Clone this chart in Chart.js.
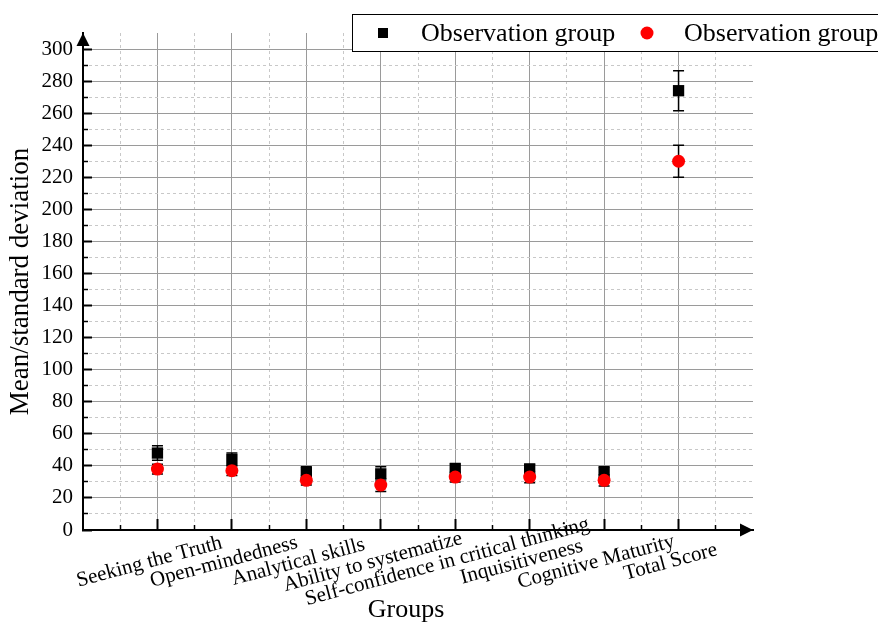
<!DOCTYPE html>
<html lang="en">
<head>
<meta charset="UTF-8" />
<title>Mean/standard deviation by group</title>
<style>
  body { margin: 0; background: #fff; }
  #wrap { width: 878px; height: 623px; }
</style>
<script src="https://cdn.jsdelivr.net/npm/chart.js"></script>
</head>
<body>
<div id="wrap"><canvas id="chart"></canvas></div>
<script>
const groups = ["Seeking the Truth", "Open-mindedness", "Analytical skills", "Ability to systematize",
  "Self-confidence in critical thinking", "Inquisitiveness", "Cognitive Maturity", "Total Score"];
const seriesNames = ["Observation group", "Observation group"];
const obsMean = [48, 44, 36, 35, 38, 38, 36, 274];
const obsSd = [4.5, 4, 3.5, 4.5, 3.5, 3, 3.5, 12.5];
const ctrlMean = [38, 37, 31, 28, 33, 33, 31, 230];
const ctrlSd = [3, 3, 3, 4, 3, 3.5, 3.5, 10];

const serif = "'Liberation Serif', 'Times New Roman', serif";
const majorGrid = '#9a9a9a';
const minorGrid = '#c8c8c8';

function toPoints(values) {
  return values.map((v, i) => ({ x: i + 1, y: v }));
}

// error bars, axis arrows, rotated group labels, x title and the legend box
const decor = {
  id: 'decor',
  beforeDatasetsDraw(chart) {
    const { ctx, scales: { x, y } } = chart;
    ctx.save();
    ctx.strokeStyle = '#000';
    ctx.lineWidth = 1.5;
    [[obsMean, obsSd], [ctrlMean, ctrlSd]].forEach(([m, s]) => {
      m.forEach((v, i) => {
        const px = x.getPixelForValue(i + 1);
        const top = y.getPixelForValue(v + s[i]);
        const bot = y.getPixelForValue(v - s[i]);
        ctx.beginPath();
        ctx.moveTo(px, top); ctx.lineTo(px, bot);
        ctx.moveTo(px - 5.5, top); ctx.lineTo(px + 5.5, top);
        ctx.moveTo(px - 5.5, bot); ctx.lineTo(px + 5.5, bot);
        ctx.stroke();
      });
    });
    ctx.restore();
  },
  afterDraw(chart) {
    const { ctx, chartArea: a, scales: { x } } = chart;
    ctx.save();
    ctx.fillStyle = '#000';
    ctx.beginPath();
    ctx.moveTo(a.left, a.top);
    ctx.lineTo(a.left - 6.5, a.top + 13);
    ctx.lineTo(a.left + 6.5, a.top + 13);
    ctx.closePath();
    ctx.fill();
    ctx.beginPath();
    ctx.moveTo(a.right, a.bottom);
    ctx.lineTo(a.right - 13, a.bottom - 6.5);
    ctx.lineTo(a.right - 13, a.bottom + 6.5);
    ctx.closePath();
    ctx.fill();

    ctx.font = '21px ' + serif;
    ctx.textAlign = 'center';
    ctx.textBaseline = 'middle';
    groups.forEach((g, i) => {
      ctx.save();
      ctx.translate(x.getPixelForValue(i + 1) - 8, a.bottom + 32);
      ctx.rotate(-15 * Math.PI / 180);
      ctx.fillText(g, 0, 0);
      ctx.restore();
    });

    ctx.font = '26px ' + serif;
    ctx.fillText('Groups', x.getPixelForValue(4.34), a.bottom + 80);

    // legend (runs off the right edge like the original)
    ctx.fillStyle = '#fff';
    ctx.strokeStyle = '#000';
    ctx.lineWidth = 1;
    ctx.fillRect(352.5, 14.5, 600, 37);
    ctx.strokeRect(352.5, 14.5, 600, 37);
    ctx.fillStyle = '#000';
    ctx.fillRect(378, 28, 10, 10);
    ctx.textAlign = 'left';
    ctx.fillText(seriesNames[0], 421, 34);
    ctx.fillStyle = '#ff0000';
    ctx.beginPath();
    ctx.arc(647, 33, 6.5, 0, 2 * Math.PI);
    ctx.fill();
    ctx.fillStyle = '#000';
    ctx.fillText(seriesNames[1], 684, 34);
    ctx.restore();
  }
};

const isCat = v => Number.isInteger(v) && v >= 1 && v <= groups.length;
const isHalf = v => Math.abs(v % 1 - 0.5) < 1e-6;
const isMinorY = v => v % 20 === 10 && v < 300;

new Chart(document.getElementById('chart'), {
  type: 'scatter',
  data: {
    datasets: [{
      label: seriesNames[0],
      data: toPoints(obsMean),
      pointStyle: 'rect',
      pointRadius: 8,
      backgroundColor: '#000',
      borderWidth: 0,
      order: 1
    }, {
      label: seriesNames[1],
      data: toPoints(ctrlMean),
      pointStyle: 'circle',
      pointRadius: 6.5,
      backgroundColor: '#ff0000',
      borderWidth: 0,
      order: 0
    }]
  },
  options: {
    responsive: true,
    maintainAspectRatio: false,
    animation: false,
    layout: { padding: { left: 0, top: 33, right: 125, bottom: 0 } },
    plugins: { legend: { display: false }, tooltip: { enabled: false } },
    scales: {
      x: {
        type: 'linear', position: 'bottom', min: 0, max: 9, weight: 1,
        ticks: { stepSize: 1, display: false },
        grid: {
          color: c => isCat(c.tick.value) ? majorGrid : 'transparent',
          tickColor: c => isCat(c.tick.value) ? '#000' : 'transparent',
          tickLength: -11, tickWidth: 2, lineWidth: 1
        },
        border: { color: '#000', width: 2 },
        afterFit(s) { s.height = 93; }
      },
      x2: {
        type: 'linear', position: 'bottom', min: 0, max: 9, weight: -1,
        ticks: { stepSize: 0.5, display: false },
        grid: {
          color: c => isHalf(c.tick.value) ? minorGrid : 'transparent',
          tickColor: c => isHalf(c.tick.value) ? '#000' : 'transparent',
          tickLength: -5, tickWidth: 1.5, lineWidth: 1
        },
        border: { display: false, dash: [3, 3] },
        afterFit(s) { s.height = 0; }
      },
      y: {
        type: 'linear', position: 'left', min: 0, max: 310, weight: 1,
        ticks: { stepSize: 20, includeBounds: false, autoSkip: false, padding: 19, color: '#000', font: { family: serif, size: 21 } },
        grid: {
          color: majorGrid, tickColor: '#000',
          tickLength: -9, tickWidth: 2, lineWidth: 1
        },
        border: { color: '#000', width: 2 },
        title: { display: true, text: 'Mean/standard deviation', color: '#000', font: { family: serif, size: 27 }, padding: { top: 5, bottom: 0 } },
        afterFit(s) { s.width = 83; }
      },
      y2: {
        type: 'linear', position: 'left', min: 0, max: 310, weight: -1,
        ticks: { stepSize: 10, display: false },
        grid: {
          color: c => isMinorY(c.tick.value) ? minorGrid : 'transparent',
          tickColor: c => isMinorY(c.tick.value) ? '#000' : 'transparent',
          tickLength: -5, tickWidth: 1.5, lineWidth: 1
        },
        border: { display: false, dash: [3, 3] },
        afterFit(s) { s.width = 0; }
      }
    }
  },
  plugins: [decor]
});
</script>
</body>
</html>
